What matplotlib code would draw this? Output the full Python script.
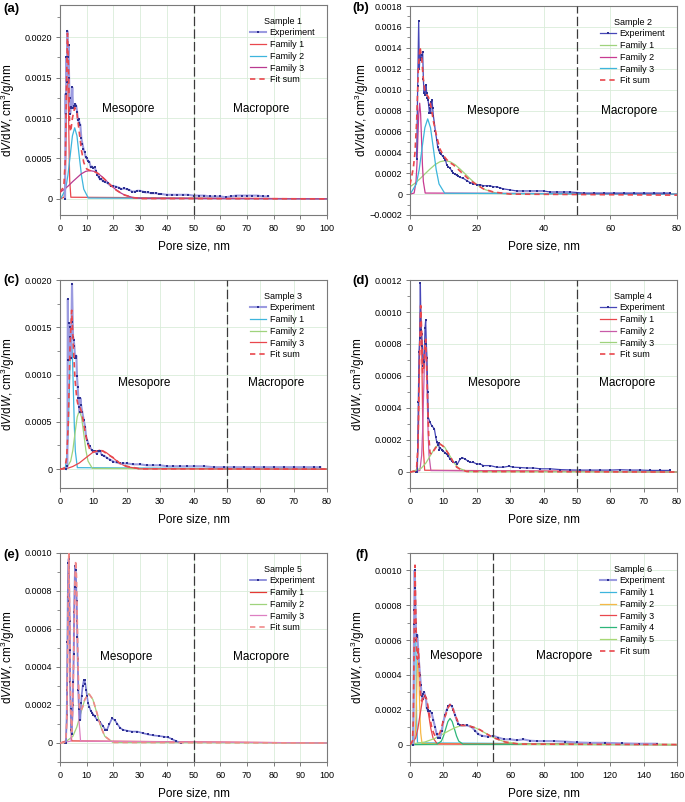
import matplotlib
matplotlib.use('Agg')
import matplotlib.pyplot as plt
from matplotlib.ticker import MultipleLocator, FuncFormatter

plt.rcParams['font.family'] = ['Liberation Sans', 'DejaVu Sans']
plt.rcParams['mathtext.fontset'] = 'custom'
plt.rcParams['mathtext.rm'] = 'Liberation Sans'
plt.rcParams['mathtext.it'] = 'Liberation Sans:italic'

# ---------------- Panel (a) : Sample 1 ----------------
A_EXP = [(1.9,0.0),(2.1,0.0013),(2.2,0.00105),(2.4,0.00175),(2.6,0.00145),(2.75,0.00208),(2.9,0.0017),(3.0,0.00175),
         (3.2,0.0019),(3.4,0.0015),(3.6,0.00125),(3.8,0.00105),(4.0,0.00112),(4.3,0.00114),(4.6,0.00138),(4.9,0.00112),
         (5.2,0.00115),(5.5,0.00116),(5.8,0.00117),(6.1,0.00115),(6.4,0.00108),(6.7,0.00097),(7.0,0.00099),(7.3,0.00094),
         (7.6,0.00092),(8.0,0.00075),(8.4,0.00068),(8.8,0.00062),(9.2,0.00058),(9.6,0.00052),(10.0,0.0005),(10.5,0.00047),
         (11.0,0.00046),(11.5,0.00039),(12.0,0.0004),(12.5,0.00038),(13.0,0.00039),(13.5,0.00034),(14.0,0.0003),
         (14.5,0.00027),(15.0,0.00024),(15.5,0.00025),(16.0,0.00022),(17.0,0.00021),(18.0,0.00019),(19.0,0.00016),
         (20.0,0.00016),(21.0,0.00015),(22.0,0.00014),(23.0,0.00012),(24.0,0.00013),(25.0,0.00012),(26.0,0.00011),
         (27.0,0.00009),(28.0,0.00009),(29.0,0.0001),(30.0,0.0001),(31.0,0.00009),(32.0,0.00008),(33.0,0.00008),
         (34.0,0.00007),(35.0,0.00007),(36.0,0.00007),(37.0,0.00006),(38.0,0.00006),(40.0,0.00005),(42.0,0.00005),
         (44.0,0.00005),(46.0,0.00005),(48.0,0.00005),(50.0,0.00004),(52.0,0.00004),(54.0,0.00004),(56.0,0.00003),
         (58.0,0.00003),(60.0,0.00003),(62.0,0.00002),(64.0,0.00003),(66.0,0.00004),(68.0,0.00004),(70.0,0.00004),
         (72.0,0.00004),(74.0,0.00004),(76.0,0.00003),(78.0,0.00003)]
A_F1 = [(0,0),(1.54,0.00002),(1.96,0.00023),(2.17,0.00055),(2.38,0.00103),(2.59,0.0015),(2.8,0.0017),(3.01,0.0015),
        (3.22,0.00103),(3.43,0.00055),(3.64,0.00023),(4.06,0.00002),(100,0)]
A_F2 = [(0,0),(0.4,0.00001),(2.1,0.00012),(2.95,0.00029),(3.8,0.00053),(4.65,0.00078),(5.5,0.00088),(6.35,0.00078),
        (7.2,0.00053),(8.05,0.00029),(8.9,0.00012),(10.6,0.00001),(100,0)]
A_F3 = [(0,0.00008),(1.45,0.000114),(3.1,0.00016),(4.7,0.000212),(7.95,0.000309),(9.6,0.00034),(11.2,0.00035),
        (12.8,0.00034),(14.45,0.000309),(16.1,0.000264),(17.7,0.000212),(19.3,0.00016),(20.95,0.000114),
        (22.6,0.000076),(24.2,0.000047),(27.5,0.000015),(30.7,0.000004),(100,0)]
A_FIT = [(0,0.00008),(1.0,0.00013),(1.5,0.00019),(2.0,0.0005),(2.4,0.00136),(2.8,0.00205),(3.2,0.00158),(3.6,0.0009),
         (4.0,0.00083),(4.65,0.001),(5.5,0.00113),(6.35,0.00106),(7.2,0.00083),(8.05,0.0006),(8.9,0.00045),
         (10.0,0.00037),(11.2,0.00035),(12.8,0.00034),(14.45,0.00031),(16.1,0.00026),(17.7,0.00021),(19.3,0.00016),
         (20.95,0.00011),(22.6,0.000076),(24.2,0.000047),(27.5,0.000015),(30.7,0.000004),(100,0)]

# ---------------- Panel (b) : Sample 2 ----------------
B_EXP = [(2.0,0.00034),(2.3,0.00103),(2.6,0.00166),(2.8,0.0012),(3.0,0.00135),(3.2,0.0013),(3.4,0.00128),(3.6,0.00133),
         (3.8,0.00136),(4.0,0.0011),(4.2,0.00097),(4.4,0.001),(4.6,0.00095),(4.8,0.00104),(5.0,0.00097),(5.2,0.00092),
         (5.4,0.0009),(5.6,0.00085),(5.8,0.00078),(6.0,0.00082),(6.2,0.00078),(6.4,0.00088),(6.6,0.0009),(6.8,0.00082),
         (7.0,0.00075),(7.3,0.00068),(7.6,0.0006),(8.0,0.00052),(8.3,0.00045),(8.6,0.00042),(9.0,0.00039),(9.4,0.00038),
         (9.8,0.00036),(10.2,0.00035),(10.6,0.00033),(11.0,0.00028),(11.5,0.00026),(12.0,0.00025),(12.5,0.00022),
         (13.0,0.0002),(13.5,0.00019),(14.0,0.00018),(14.5,0.00017),(15.0,0.00016),(16.0,0.00015),(17.0,0.00013),
         (18.0,0.00011),(19.0,0.0001),(20.0,0.00009),(21.0,0.00009),(22.0,0.00008),(23.0,0.00008),(24.0,0.00008),
         (25.0,0.00007),(26.0,0.00007),(27.0,0.00006),(28.0,0.00005),(30.0,0.00004),(32.0,0.00003),(34.0,0.00003),
         (36.0,0.00003),(38.0,0.00003),(40.0,0.00003),(42.0,0.00002),(44.0,0.00002),(46.0,0.00002),(48.0,0.00002),
         (50.0,0.000015),(52.0,0.00001),(55.0,0.00001),(58.0,0.00001),(61.0,0.00001),(64.0,0.00001),(67.0,0.00001),
         (70.0,0.00001),(73.0,0.00001),(76.0,0.00001),(78.0,0.00001)]
B_F1 = [(0,0.00007),(1.5,0.000104),(3.0,0.000147),(4.5,0.000194),(6.0,0.00024),(7.5,0.000282),(9.0,0.00031),
        (10.5,0.00032),(12.0,0.00031),(13.5,0.000282),(15.0,0.00024),(16.5,0.000194),(18.0,0.000147),(19.5,0.000104),
        (21.0,0.000069),(22.5,0.000043),(25.5,0.000012),(28.5,0.0000035),(80,0)]
B_F2 = [(0,0),(1.25,0.00001),(1.8,0.00012),(2.075,0.00028),(2.35,0.00053),(2.625,0.00077),(2.9,0.00087),(3.175,0.00077),
        (3.45,0.00053),(3.725,0.00028),(4.0,0.00012),(4.55,0.00001),(80,0)]
B_F3 = [(0,0),(0.2,0.000008),(1.9,0.000097),(2.75,0.000234),(3.6,0.000437),(4.45,0.000635),(5.3,0.00072),(6.15,0.000635),
        (7.0,0.000437),(7.85,0.000234),(8.7,0.000097),(10.4,0.000008),(80,0)]
B_FIT = [(0,0.00009),(1.0,0.00025),(1.5,0.0004),(2.0,0.0007),(2.5,0.0012),(3.0,0.00141),(3.5,0.0013),(4.0,0.0011),
         (4.5,0.00098),(5.0,0.00095),(5.5,0.00093),(6.0,0.00088),(6.5,0.0008),(7.0,0.0007),(8.0,0.00055),(9.0,0.00043),
         (10.0,0.00037),(11.0,0.00033),(12.0,0.0003),(13.0,0.00028),(14.0,0.00025),(16.0,0.00019),(18.0,0.00013),
         (20.0,0.00009),(22.0,0.00005),(25.0,0.00002),(30.0,0.0),(80,-0.00001)]

# ---------------- Panel (c) : Sample 3 ----------------
C_EXP = [(1.8,0.0),(2.2,0.00003),(2.35,0.0018),(2.5,0.00115),(2.7,0.00154),(2.9,0.0015),(3.1,0.0014),(3.3,0.00117),
         (3.45,0.00156),(3.6,0.00196),(3.9,0.0014),(4.1,0.00137),(4.3,0.0013),(4.5,0.00118),(4.7,0.00118),(4.9,0.0012),
         (5.1,0.00098),(5.3,0.00087),(5.5,0.00075),(5.7,0.00066),(5.9,0.0006),(6.1,0.00075),(6.3,0.00068),(6.7,0.0006),
         (7.1,0.00052),(7.5,0.00045),(7.8,0.00035),(8.1,0.00031),(8.5,0.00027),(8.9,0.00024),(9.5,0.0002),(10.0,0.00019),
         (10.5,0.00019),(11.0,0.00016),(11.5,0.00019),(12.0,0.00019),(12.5,0.00015),(13.3,0.00014),(14.0,0.00012),
         (15.0,0.0001),(16.0,0.00008),(17.0,0.00007),(18.0,0.00006),(19.0,0.00006),(20.0,0.00006),(22.0,0.00005),
         (24.0,0.00005),(26.0,0.00004),(28.0,0.00004),(30.0,0.00004),(32.0,0.00003),(34.0,0.00003),(36.0,0.00003),
         (38.0,0.00003),(40.0,0.00003),(43.0,0.00003),(46.0,0.00002),(49.0,0.00002),(52.0,0.00002),(55.0,0.00002),
         (58.0,0.00002),(61.0,0.00002),(64.0,0.00002),(67.0,0.00002),(70.0,0.00002),(73.0,0.00002),(76.0,0.00002),
         (78.0,0.00002)]
C_F1 = [(0,0),(1.6,0.000015),(2.2,0.000187),(2.5,0.00045),(2.8,0.00084),(3.1,0.00122),(3.4,0.00138),(3.7,0.00122),
        (4.0,0.00084),(4.3,0.00045),(4.6,0.000187),(5.2,0.000015),(80,0)]
C_F2 = [(0,0),(1.9,0.000007),(3.2,0.000085),(3.85,0.0002),(4.5,0.00038),(5.15,0.00055),(5.8,0.00062),(6.45,0.00055),
        (7.1,0.00038),(7.75,0.0002),(8.4,0.000085),(9.7,0.000007),(80,0)]
C_F3 = [(0,0),(1.8,0.000003),(3.8,0.000027),(5.8,0.000065),(7.8,0.000121),(9.8,0.000176),(11.8,0.0002),(13.8,0.000176),
        (15.8,0.000121),(17.8,0.000065),(19.8,0.000027),(23.8,0.000002),(80,0)]
C_FIT = [(0,0),(1.0,0.000005),(1.5,0.00002),(2.0,0.00012),(2.5,0.0005),(3.0,0.0013),(3.5,0.00168),(4.0,0.0013),
         (4.5,0.00095),(5.0,0.00075),(5.5,0.00066),(6.0,0.00065),(6.5,0.0006),(7.0,0.0005),(7.5,0.0004),(8.0,0.00031),
         (8.5,0.00025),(9.0,0.0002),(10.0,0.00018),(11.0,0.00019),(12.0,0.0002),(13.0,0.00019),(14.0,0.00016),
         (16.0,0.00012),(18.0,0.00006),(20.0,0.00003),(24.0,0.000003),(80,0)]

# ---------------- Panel (d) : Sample 4 ----------------
D_EXP = [(1.7,0.0),(2.2,0.0),(2.5,0.00044),(2.7,0.00075),(2.9,0.00084),(3.1,0.00118),(3.3,0.00089),(3.5,0.00086),
         (3.7,0.00079),(3.9,0.0007),(4.0,0.00066),(4.2,0.00069),(4.4,0.00082),(4.5,0.0009),(4.7,0.00095),(4.9,0.0008),
         (5.1,0.00071),(5.3,0.0005),(5.5,0.00034),(6.0,0.00031),(6.5,0.00029),(7.3,0.00027),(7.7,0.00022),(8.0,0.00019),
         (8.3,0.00017),(8.6,0.00018),(8.8,0.00014),(9.1,0.00015),(9.5,0.00014),(10.0,0.00013),(10.5,0.00012),
         (11.0,0.00011),(11.5,0.0001),(12.0,0.00008),(12.5,0.00007),(13.0,0.00006),(13.7,0.00006),(14.2,0.00005),
         (15.0,0.00008),(15.7,0.00009),(16.5,0.00008),(17.3,0.00007),(18.0,0.00006),(19.0,0.00006),(20.0,0.00005),
         (21.0,0.00005),(22.0,0.00004),(24.0,0.00004),(26.0,0.00003),(28.0,0.00003),(29.6,0.000036),(31.0,0.00003),
         (33.0,0.000028),(35.0,0.000025),(37.0,0.000025),(39.0,0.00002),(42.0,0.00002),(45.0,0.000015),(48.0,0.000013),
         (51.0,0.000012),(54.0,0.000012),(57.0,0.000012),(60.0,0.000012),(63.0,0.000014),(66.0,0.000012),
         (69.0,0.000012),(72.0,0.00001),(75.0,0.00001),(78.0,0.00001)]
D_F1 = [(0,0),(2.0,0.000011),(2.4,0.00014),(2.6,0.00033),(2.8,0.00063),(3.0,0.00091),(3.2,0.00103),(3.4,0.00091),
        (3.6,0.00063),(3.8,0.00033),(4.0,0.00014),(4.4,0.000011),(80,0)]
D_F2 = [(0,0),(2.95,0.000009),(3.5,0.000105),(3.775,0.00025),(4.05,0.00047),(4.325,0.00069),(4.6,0.00078),
        (4.875,0.00069),(5.15,0.00047),(5.425,0.00025),(5.7,0.000105),(6.25,0.000009),(80,0)]
D_F3 = [(0,0),(0.6,0.000002),(3.4,0.000024),(4.8,0.000057),(6.2,0.000106),(7.6,0.000155),(9.0,0.000175),(10.4,0.000155),
        (11.8,0.000106),(13.2,0.000057),(14.6,0.000024),(17.4,0.000002),(80,0)]
D_FIT = [(0,0),(1.5,0.000005),(2.0,0.00003),(2.4,0.00017),(2.8,0.00066),(3.2,0.00104),(3.5,0.00088),(3.8,0.00062),
         (4.1,0.00063),(4.4,0.00078),(4.7,0.00083),(5.0,0.00067),(5.3,0.00044),(5.6,0.00023),(6.0,0.00012),(6.5,0.00011),
         (7.0,0.00013),(8.0,0.00016),(9.0,0.000175),(10.0,0.00016),(11.0,0.00013),(12.0,0.0001),(13.0,0.00006),
         (14.0,0.00003),(15.0,0.000018),(17.0,0.000003),(80,0)]

# ---------------- Panel (e) : Sample 5 ----------------
E_EXP = [(1.9,0.0),(2.25,0.0),(2.5,0.00015),(2.6,0.00028),(2.75,0.00053),(2.9,0.00077),(3.1,0.00095),(3.25,0.00097),
         (3.4,0.00089),(3.5,0.00075),(3.6,0.00064),(3.7,0.00049),(3.8,0.00032),(4.0,0.00018),(4.1,0.00007),(4.4,0.00005),
         (4.75,0.0002),(4.9,0.00032),(5.1,0.00047),(5.25,0.00069),(5.45,0.00082),(5.6,0.00093),(5.9,0.00091),
         (6.1,0.00082),(6.25,0.00075),(6.4,0.00064),(6.5,0.00056),(6.6,0.00044),(6.9,0.00028),(7.1,0.00018),
         (7.4,0.00012),(7.6,0.00012),(7.9,0.00021),(8.1,0.00025),(8.5,0.0003),(8.9,0.00033),(9.2,0.00033),(9.5,0.00031),
         (9.8,0.00028),(10.1,0.00025),(10.5,0.00021),(11.0,0.00019),(11.5,0.00017),(12.0,0.00016),(12.5,0.00015),
         (13.0,0.00014),(14.0,0.00012),(15.0,0.00011),(16.0,0.00009),(17.0,0.00007),(17.6,0.00007),(18.5,0.0001),
         (19.5,0.00013),(20.5,0.00012),(21.5,0.0001),(22.5,0.00008),(23.5,0.00007),(25.0,0.000065),(27.0,0.00006),
         (29.0,0.00006),(31.0,0.000052),(33.0,0.000045),(35.0,0.00004),(37.0,0.000037),(39.0,0.000033),(40.5,0.00003),
         (42.0,0.00002),(43.5,0.00001),(45.5,0.0)]
E_F1 = [(0,0),(2.25,0.000011),(2.6,0.000135),(2.775,0.000325),(2.95,0.000607),(3.125,0.000882),(3.3,0.001),
        (3.475,0.000882),(3.65,0.000607),(3.825,0.000325),(4.0,0.000135),(4.35,0.000011),(100,0)]
E_F2 = [(0,0),(1.8,0.000003),(4.8,0.000035),(6.3,0.000084),(7.8,0.000158),(9.3,0.000229),(10.8,0.00026),(12.3,0.000229),
        (13.8,0.000158),(15.3,0.000084),(16.8,0.000035),(19.8,0.000003),(100,0)]
E_F3 = [(0,0),(4.1,0.00001),(4.7,0.00012),(5.0,0.00028),(5.3,0.00053),(5.6,0.00077),(5.9,0.00087),(6.2,0.00077),
        (6.5,0.00053),(6.8,0.00028),(7.1,0.00012),(7.7,0.00001),(100,0)]
E_FIT = [(0,0),(1.8,0.000003),(2.25,0.00002),(2.6,0.00015),(2.95,0.00062),(3.3,0.00101),(3.65,0.00062),(4.0,0.00017),
         (4.35,0.00006),(4.7,0.00017),(5.0,0.00035),(5.3,0.00062),(5.6,0.00087),(5.9,0.00096),(6.2,0.00087),
         (6.5,0.00062),(6.8,0.00039),(7.1,0.00024),(7.4,0.00017),(7.8,0.00017),(8.5,0.00019),(9.3,0.00023),
         (10.8,0.00026),(12.3,0.00023),(13.8,0.00016),(15.3,0.000085),(16.8,0.000035),(19.8,0.000003),(100,0)]

# ---------------- Panel (f) : Sample 6 ----------------
F_EXP = [(2.0,0.0),(2.4,0.00069),(2.6,0.00077),(2.8,0.001),(3.0,0.0009),(3.2,0.0008),(3.4,0.0007),(3.6,0.00065),
         (3.8,0.0006),(4.0,0.00062),(4.4,0.00063),(5.0,0.00053),(5.5,0.00046),(6.0,0.0004),(6.5,0.00034),(7.0,0.00028),
         (7.5,0.00026),(8.0,0.00029),(8.5,0.0003),(9.0,0.00028),(9.5,0.00027),(10.0,0.00021),(10.5,0.0002),(11.0,0.00019),
         (12.0,0.00019),(13.0,0.00018),(14.0,0.00014),(15.0,0.0001),(16.0,0.00006),(17.0,0.00004),(18.0,0.00004),
         (19.0,0.00008),(20.0,0.00013),(21.0,0.00017),(22.0,0.0002),(23.0,0.00022),(24.0,0.00023),(25.0,0.00022),
         (26.0,0.0002),(27.0,0.00017),(28.0,0.00014),(29.0,0.00012),(30.0,0.00011),(32.0,0.00011),(34.4,0.00011),
         (37.0,0.0001),(39.0,0.00008),(41.0,0.00006),(43.4,0.00005),(46.6,0.000046),(50.0,0.00005),(53.0,0.00004),
         (56.4,0.00003),(60.0,0.00003),(64.0,0.000025),(68.0,0.00003),(72.0,0.000022),(76.0,0.00002),(80.0,0.00002),
         (86.0,0.00002),(93.0,0.000017),(100.0,0.000012),(108.0,0.00001),(117.0,0.00001),(127.0,0.000007),
         (137.0,0.000005),(148.0,0.000005)]
F_F1 = [(0,0),(1.5,0.00001),(2.0,0.00013),(2.25,0.00032),(2.5,0.00059),(2.75,0.00086),(3.0,0.00097),(3.25,0.00086),
        (3.5,0.00059),(3.75,0.00032),(4.0,0.00013),(4.5,0.00001),(160,0)]
F_F2 = [(0,0),(2.4,0.000006),(3.2,0.000068),(3.6,0.00016),(4.0,0.0003),(4.4,0.00044),(4.8,0.0005),(5.2,0.00044),
        (5.6,0.0003),(6.0,0.00016),(6.4,0.000068),(7.2,0.000006),(160,0)]
F_F3 = [(0,0),(0.8,0.000003),(3.4,0.000038),(4.7,0.000091),(6.0,0.00017),(7.3,0.000247),(8.6,0.00028),(9.9,0.000247),
        (11.2,0.00017),(12.5,0.000091),(13.8,0.000038),(16.4,0.000003),(160,0)]
F_F4 = [(0,0),(16.2,0.000002),(18.8,0.00002),(20.1,0.000049),(21.4,0.000091),(22.7,0.000132),(24.0,0.00015),
        (25.3,0.000132),(26.6,0.000091),(27.9,0.000049),(29.2,0.00002),(31.8,0.000002),(160,0)]
F_F5 = [(0,0.000002),(9.0,0.000015),(15.0,0.000036),(18.0,0.000051),(21.0,0.000067),(24.0,0.000083),(27.0,0.000097),
        (30.0,0.000107),(33.0,0.00011),(36.0,0.000107),(39.0,0.000097),(42.0,0.000083),(45.0,0.000067),(48.0,0.000051),
        (51.0,0.000036),(57.0,0.000015),(69.0,0.0000012),(160,0)]
F_FIT = [(0,0),(1.5,0.00002),(2.0,0.00015),(2.5,0.00063),(3.0,0.00103),(3.5,0.00075),(4.0,0.00051),(4.5,0.00049),
         (5.0,0.00055),(5.5,0.00046),(6.0,0.00034),(6.5,0.00027),(7.0,0.00025),(8.0,0.00027),(8.6,0.00029),
         (10.0,0.00026),(11.0,0.00021),(12.0,0.00015),(13.0,0.0001),(14.0,0.00007),(15.0,0.00005),(16.0,0.00005),
         (17.0,0.000055),(18.0,0.00007),(19.0,0.0001),(20.0,0.00014),(21.4,0.00017),(22.7,0.00021),(24.0,0.00023),
         (25.3,0.00022),(26.6,0.00018),(27.9,0.00015),(29.2,0.00012),(31.0,0.00011),(33.0,0.00011),(36.0,0.000105),
         (39.0,0.000097),(42.0,0.000085),(45.0,0.000067),(48.0,0.00005),(51.0,0.000036),(57.0,0.000015),
         (65.0,0.000003),(160,0)]

SAMPLE_TITLES = ['Sample 1', 'Sample 2', 'Sample 3', 'Sample 4', 'Sample 5', 'Sample 6']
PANEL_LABELS = ['(a)', '(b)', '(c)', '(d)', '(e)', '(f)']
REGION_LABELS = ['Mesopore', 'Macropore']
BOUNDARY = 50

RED = '#e9474d'
CYAN = '#3db5dd'
MAG = '#b93a90'
GREEN = '#9fd37c'

panels = [
    dict(exp=A_EXP, fams=[A_F1, A_F2, A_F3], fit=A_FIT, cols=[RED, CYAN, MAG], fitc=RED,
         xlim=(0, 100), xstep=10, ylim=(-0.0002, 0.0024), ystep=0.0005, ymin=0.00025,
         expc='#9b9be0', explw=1.5, meso=(25.4, 0.00111), macro=(75.5, 0.00111),
         rect=(60, 5, 267, 210), ylx=-0.194, lab=(3, 9)),
    dict(exp=B_EXP, fams=[B_F1, B_F2, B_F3], fit=B_FIT, cols=[GREEN, '#c83b92', CYAN], fitc=RED,
         xlim=(0, 80), xstep=20, ylim=(-0.0002, 0.0018), ystep=0.0002, ymin=0.0001,
         expc='#4747b8', explw=0.9, meso=(24.9, 0.0008), macro=(65.7, 0.0008),
         rect=(410, 6, 267, 209), ylx=-0.181, lab=(352, 8)),
    dict(exp=C_EXP, fams=[C_F1, C_F2, C_F3], fit=C_FIT, cols=[CYAN, GREEN, RED], fitc=RED,
         xlim=(0, 80), xstep=10, ylim=(-0.0002, 0.0020), ystep=0.0005, ymin=0.00025,
         expc='#9b9be0', explw=1.5, meso=(25.1, 0.00091), macro=(64.9, 0.00091),
         rect=(60, 280, 267, 208), ylx=-0.194, lab=(3, 280)),
    dict(exp=D_EXP, fams=[D_F1, D_F2, D_F3], fit=D_FIT, cols=[RED, '#c85aa8', GREEN], fitc=RED,
         xlim=(0, 80), xstep=10, ylim=(-0.0001, 0.0012), ystep=0.0002, ymin=0.0001,
         expc='#4747b8', explw=0.9, meso=(25.1, 0.000557), macro=(65.0, 0.000557),
         rect=(410, 280, 267, 208), ylx=-0.194, lab=(352, 281)),
    dict(exp=E_EXP, fams=[E_F1, E_F2, E_F3], fit=E_FIT, cols=['#e53935', GREEN, '#dd7fc2'], fitc='#f08a8a',
         xlim=(0, 100), xstep=10, ylim=(-0.0001, 0.0010), ystep=0.0002, ymin=0.0001,
         expc='#7f80d6', explw=1.2, meso=(24.7, 0.000454), macro=(75.2, 0.000454),
         rect=(60, 553, 267, 209), ylx=-0.194, lab=(3, 555)),
    dict(exp=F_EXP, fams=[F_F1, F_F2, F_F3, F_F4, F_F5], fit=F_FIT,
         cols=[CYAN, '#f6b847', RED, '#2db67a', '#a8d875'], fitc=RED,
         xlim=(0, 160), xstep=20, ylim=(-0.0001, 0.0011), ystep=0.0002, ymin=0.0001,
         expc='#9b9be0', explw=1.5, meso=(27.4, 0.000506), macro=(92.3, 0.000506),
         rect=(410, 553, 267, 209), ylx=-0.194, lab=(355, 555)),
]

W, H = 685, 802
fig = plt.figure(figsize=(W / 100, H / 100), dpi=100)


def yfmt(v, pos):
    if abs(v) < 1e-12:
        return '0'
    s = f'{abs(v):.4f}'
    return ('\u2212' + s) if v < 0 else s


for i, p in enumerate(panels):
    l, t, w, h = p['rect']
    ax = fig.add_axes([l / W, 1 - (t + h) / H, w / W, h / H])
    ax.set_xlim(*p['xlim'])
    ax.set_ylim(*p['ylim'])
    ax.xaxis.set_major_locator(MultipleLocator(p['xstep']))
    ax.yaxis.set_major_locator(MultipleLocator(p['ystep']))
    ax.yaxis.set_minor_locator(MultipleLocator(p['ymin']))
    ax.yaxis.set_major_formatter(FuncFormatter(yfmt))
    ax.grid(True, which='major', color='#d9ecd9', lw=0.6, zorder=0)
    ax.set_axisbelow(True)
    for sp in ax.spines.values():
        sp.set_color('#7a7a7a')
        sp.set_linewidth(0.8)
    ax.tick_params(axis='both', which='major', direction='out', length=3, width=0.7,
                   color='#7a7a7a', labelsize=6.5, pad=2.5)
    ax.tick_params(axis='x', which='major', pad=3.5)
    ax.tick_params(axis='y', which='minor', direction='out', length=2, width=0.6, color='#7a7a7a')

    handles = []
    ex = [q[0] for q in p['exp']]
    ey = [q[1] for q in p['exp']]
    hexp, = ax.plot(ex, ey, '-', color=p['expc'], lw=p['explw'], marker='s', ms=2.0,
                    mfc='#2e3192', mec='#2e3192', mew=0, zorder=3, label='Experiment')
    handles.append(hexp)
    for k, (fam, c) in enumerate(zip(p['fams'], p['cols'])):
        fx = [q[0] for q in fam]
        fy = [q[1] for q in fam]
        hf, = ax.plot(fx, fy, '-', color=c, lw=0.9, zorder=2, label=f'Family {k + 1}')
        handles.append(hf)
    sx = [q[0] for q in p['fit']]
    sy = [q[1] for q in p['fit']]
    hs, = ax.plot(sx, sy, '--', color=p['fitc'], lw=1.2, dashes=(3.2, 2.4), zorder=4, label='Fit sum')
    handles.append(hs)

    ax.axvline(BOUNDARY, color='#3a3a3a', lw=0.9, dashes=(7.5, 2.6), zorder=5)
    ax.text(p['meso'][0], p['meso'][1], REGION_LABELS[0], fontsize=8.5, ha='center', va='center')
    ax.text(p['macro'][0], p['macro'][1], REGION_LABELS[1], fontsize=8.5, ha='center', va='center')

    leg = ax.legend(handles=handles, title=SAMPLE_TITLES[i], loc='upper right', frameon=False,
                    fontsize=6.5, title_fontsize=6.5, handlelength=1.7, handletextpad=0.45,
                    labelspacing=0.3, borderaxespad=0.4, borderpad=0.9)

    ax.set_xlabel('Pore size, nm', fontsize=8.5, va='center')
    ax.xaxis.set_label_coords(0.5, -0.152)
    ax.set_ylabel(r'd$V$/d$W$, cm$^3$/g/nm', fontsize=8.5, va='center')
    ax.yaxis.set_label_coords(p['ylx'], 0.5)

    fig.text(p['lab'][0] / W, 1 - p['lab'][1] / H, PANEL_LABELS[i], fontsize=9.5,
             fontweight='bold', ha='left', va='center')

fig.savefig('out.png', dpi=100)
